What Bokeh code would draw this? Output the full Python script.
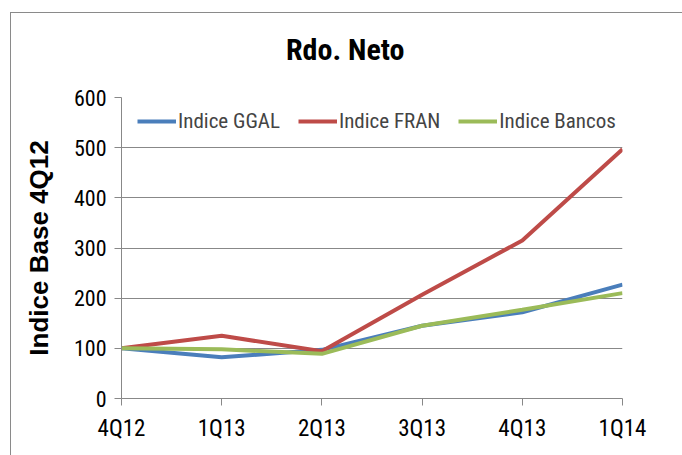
from bokeh.plotting import figure
from bokeh.models import Legend, LegendItem, FixedTicker, Div
from bokeh.layouts import column
from bokeh.embed import file_html
from bokeh.resources import INLINE

quarters = ["4Q12", "1Q13", "2Q13", "3Q13", "4Q13", "1Q14"]
ggal = [100, 82, 97, 145, 172, 227]
fran = [100, 125, 94, 207, 315, 497]
bancos = [100, 98, 89, 145, 177, 210]
y_ticks = [0, 100, 200, 300, 400, 500, 600]
title_text = "Rdo. Neto"

xs = list(range(len(quarters)))
NARROW = "'Liberation Sans Narrow', 'Arial Narrow', 'Roboto Condensed', sans-serif"

title_div = Div(text=title_text, width=671, height=50,
                styles={"font-family": NARROW, "font-size": "30px", "font-weight": "bold",
                        "color": "black", "line-height": "30px", "margin": "0",
                        "padding-left": "275px", "padding-top": "22px", "box-sizing": "border-box",
                        "background-color": "white"})

p = figure(width=671, height=392, output_backend="svg", toolbar_location=None,
           x_range=(0, len(quarters) - 1), y_range=(0, 600),
           min_border_left=110, min_border_right=60, min_border_top=34, min_border_bottom=57)
p.outline_line_color = None
p.background_fill_color = "white"
p.border_fill_color = "white"

colors = ["#4A7EBB", "#BE4B48", "#9BBB59"]
names = ["Indice GGAL", "Indice FRAN", "Indice Bancos"]
renderers = []
for series, c in zip([ggal, fran, bancos], colors):
    r = p.line(xs, series, line_color=c, line_width=4)
    renderers.append(r)

p.xaxis.ticker = FixedTicker(ticks=xs)
p.xaxis.major_label_overrides = {i: q for i, q in enumerate(quarters)}
p.yaxis.ticker = FixedTicker(ticks=y_ticks)
for ax in [p.xaxis[0], p.yaxis[0]]:
    ax.axis_line_color = "#888888"
    ax.major_tick_line_color = "#888888"
    ax.major_tick_out = 7
    ax.major_tick_in = 0
    ax.minor_tick_line_color = None
    ax.major_label_text_font = NARROW
    ax.major_label_text_color = "black"
p.xaxis.major_label_text_font_size = "23px"
p.yaxis.major_label_text_font_size = "22px"
p.xaxis.major_label_standoff = 9
p.yaxis.major_label_standoff = 8

p.yaxis.axis_label = "Indice Base 4Q12"
p.yaxis.axis_label_text_font = "'Liberation Sans', Arial, sans-serif"
p.yaxis.axis_label_text_font_style = "bold"
p.yaxis.axis_label_text_font_size = "26px"
p.yaxis.axis_label_text_color = "black"
p.yaxis.axis_label_standoff = 17

p.xgrid.grid_line_color = None
p.ygrid.grid_line_color = "#888888"
p.ygrid.grid_line_width = 1

legend = Legend(items=[LegendItem(label=n, renderers=[r]) for n, r in zip(names, renderers)],
                orientation="horizontal", location=(16, 265),
                label_text_font=NARROW, label_text_font_size="21px",
                glyph_width=39, label_standoff=2, spacing=18,
                background_fill_alpha=0, border_line_color=None, padding=0, margin=0)
p.add_layout(legend, "center")

layout = column(title_div, p, spacing=0)
layout.styles = {"border-left": "1.5px solid #8a8a8a", "border-top": "1.5px solid #8a8a8a",
                 "margin-left": "10px", "margin-top": "12px", "background-color": "white"}

open("out.html", "w").write(file_html(layout, INLINE))
